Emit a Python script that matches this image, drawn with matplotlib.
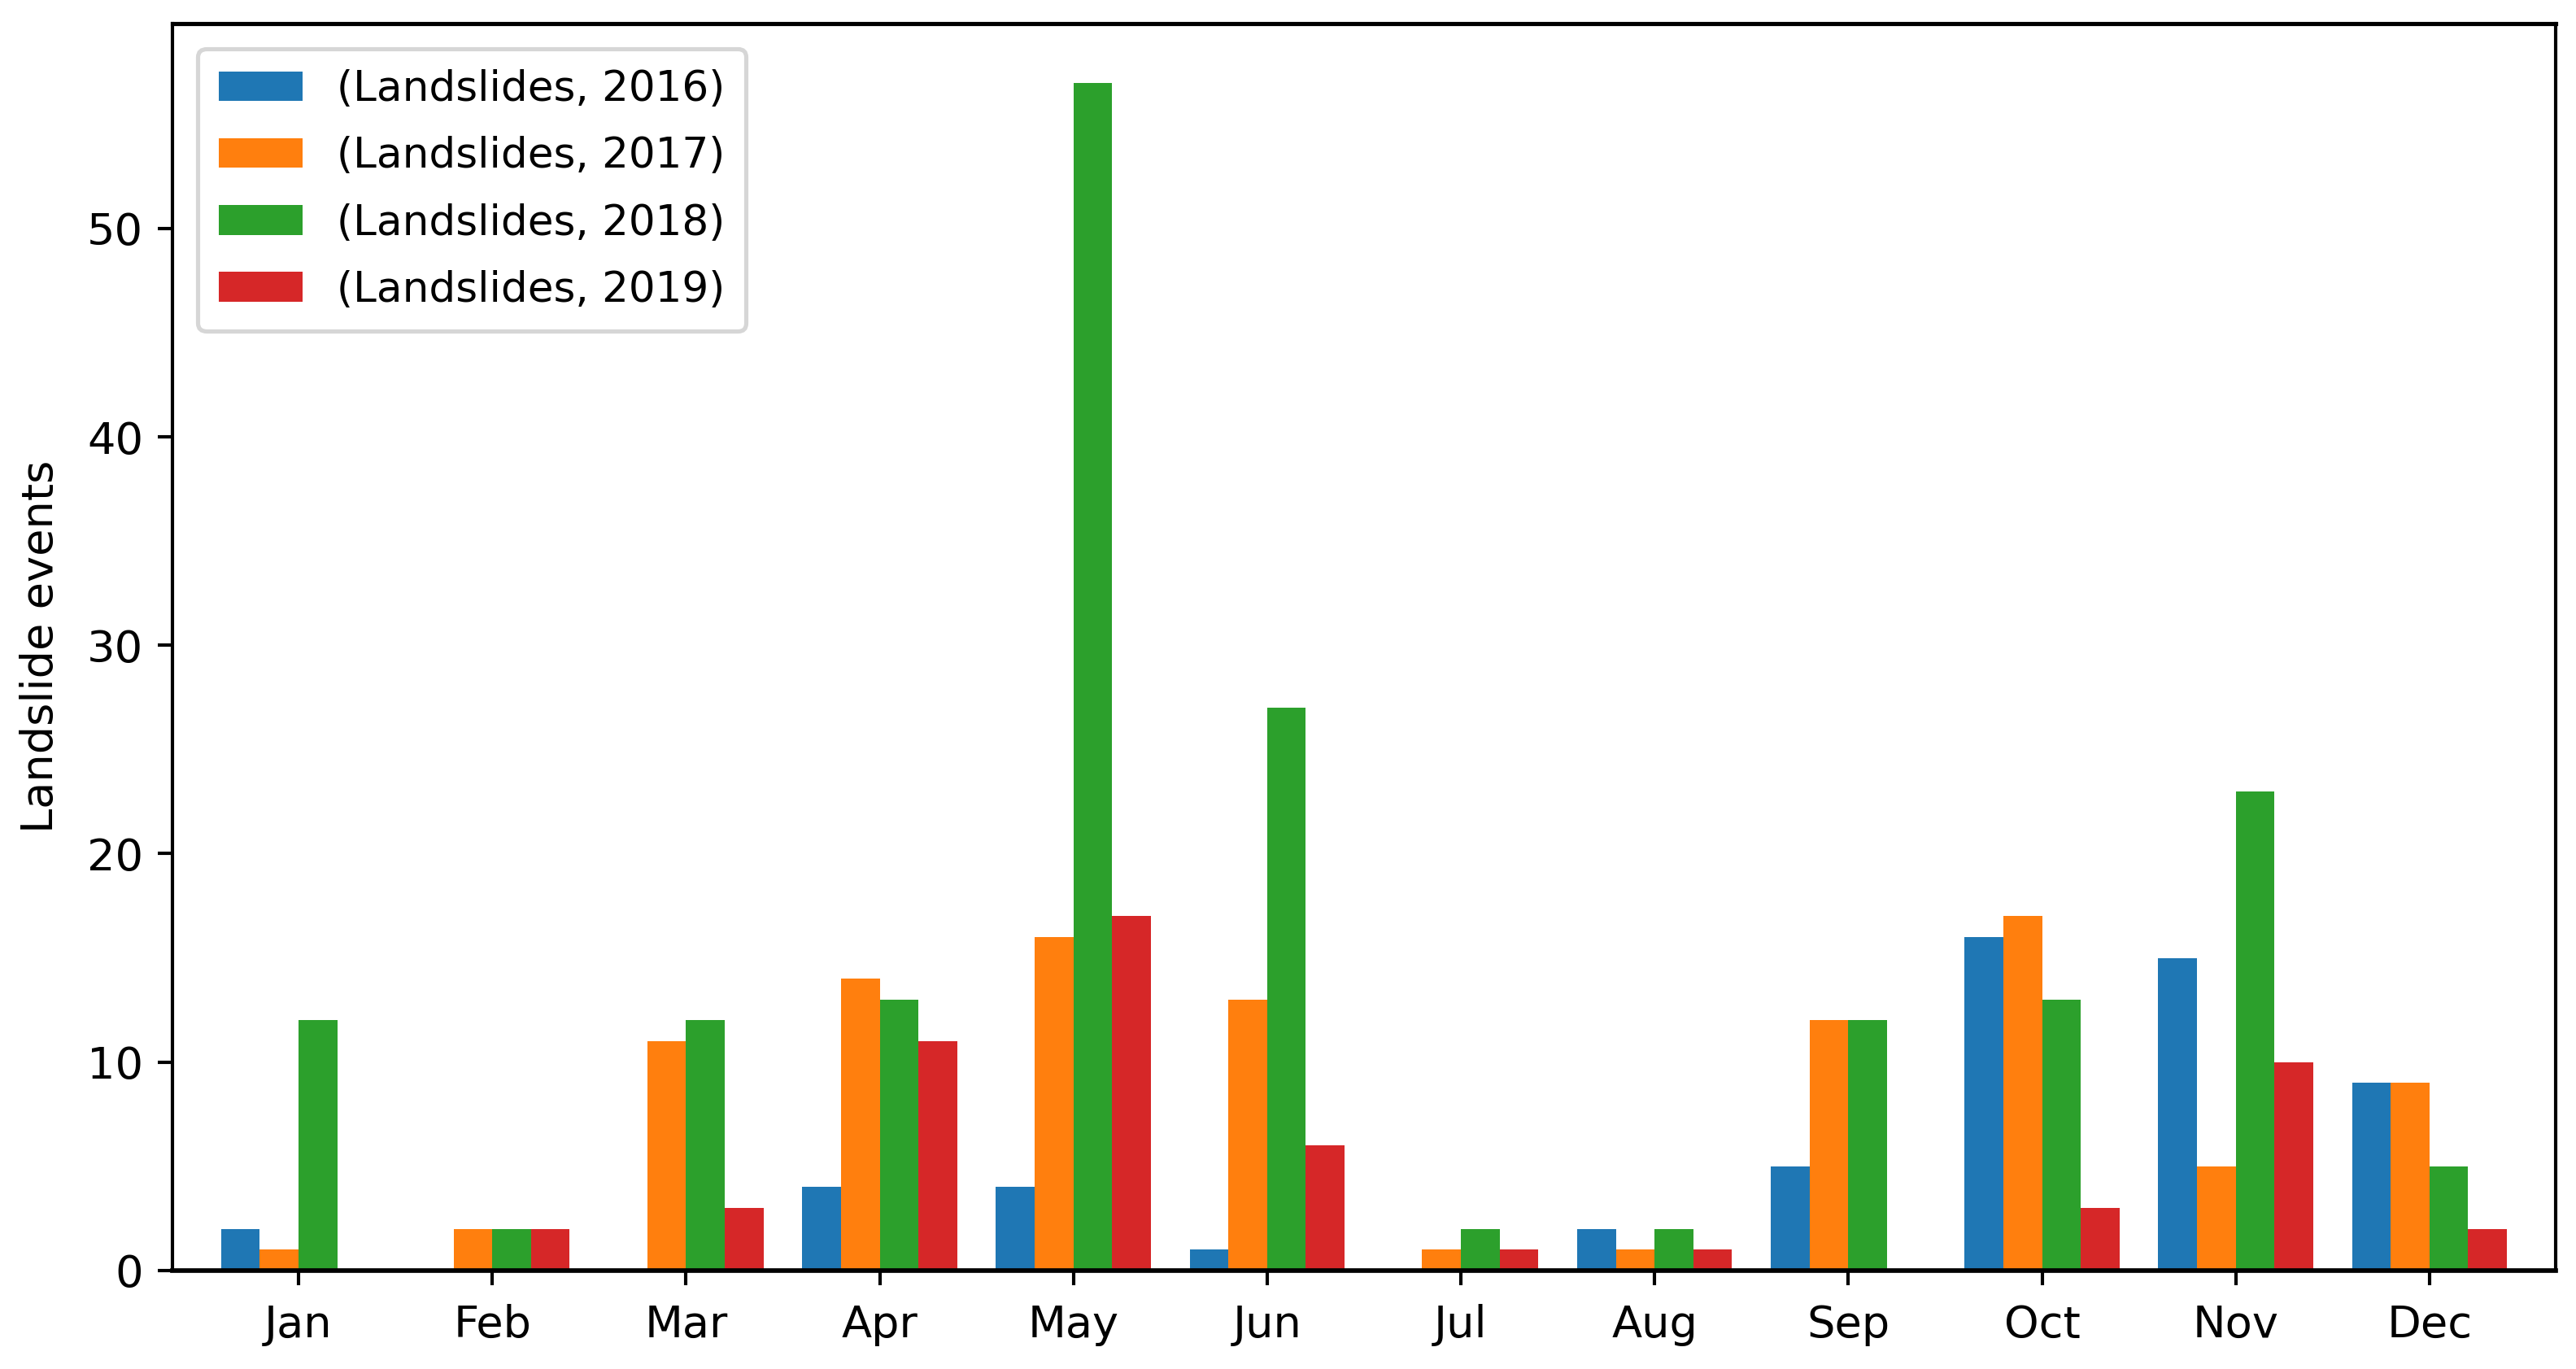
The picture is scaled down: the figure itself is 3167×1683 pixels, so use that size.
import numpy as np
import matplotlib
matplotlib.use("Agg")
import matplotlib.pyplot as plt

months = ["Jan", "Feb", "Mar", "Apr", "May", "Jun",
          "Jul", "Aug", "Sep", "Oct", "Nov", "Dec"]
years = ["2016", "2017", "2018", "2019"]
events_2016 = [2, 0, 0, 4, 4, 1, 0, 2, 5, 16, 15, 9]
events_2017 = [1, 2, 11, 14, 16, 13, 1, 1, 12, 17, 5, 9]
events_2018 = [12, 2, 12, 13, 57, 27, 2, 2, 12, 13, 23, 5]
events_2019 = [0, 2, 3, 11, 17, 6, 1, 1, 0, 3, 10, 2]
series = [events_2016, events_2017, events_2018, events_2019]
colors = ["#1f77b4", "#ff7f0e", "#2ca02c", "#d62728"]

DPI = 372
fig = plt.figure(figsize=(3167 / DPI, 1683 / DPI), dpi=DPI)
ax = fig.add_axes([0.067, 0.072, 0.925, 0.911])

x = np.arange(len(months))
group_w = 0.8
w = group_w / len(series)
for i, (yr, vals) in enumerate(zip(years, series)):
    ax.bar(x - group_w / 2 + w * (i + 0.5), vals, width=w,
           color=colors[i], label=f"(Landslides, {yr})")

ax.set_xlim(-0.65, 11.65)
ax.set_xticks(x)
ax.set_xticklabels(months, fontsize=10.5)
ax.set_yticks([0, 10, 20, 30, 40, 50])
ax.tick_params(axis="y", labelsize=10.5)
ax.tick_params(axis="x", pad=4.5)
ax.set_ylabel("Landslide events", fontsize=10.5, labelpad=6)
ax.spines["bottom"].set_linewidth(1.1)
ax.spines["top"].set_linewidth(1.0)
ax.legend(loc="upper left", labelspacing=0.62, borderpad=0.5,
          borderaxespad=0.6)

fig.savefig("out.png", dpi=DPI)
plt.close(fig)
